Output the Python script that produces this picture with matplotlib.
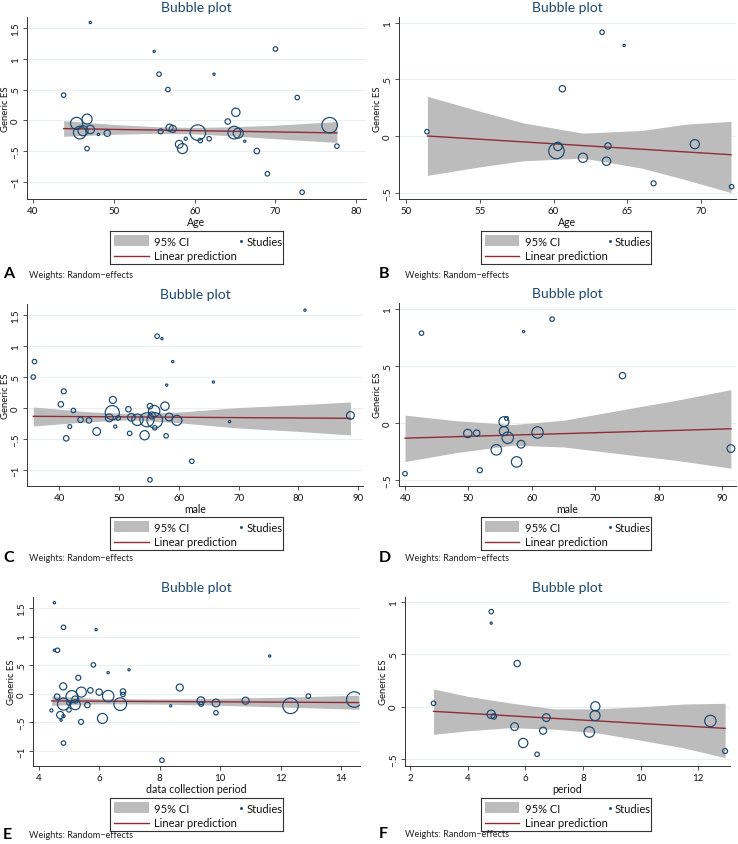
"""Meta-regression bubble plots (6 panels): effect size vs moderators."""
import matplotlib.pyplot as plt
from matplotlib.lines import Line2D
from matplotlib.patches import Rectangle

NAVY = "#1a476f"
MAROON = "#8e2c3b"
BAND = "#bcbcbc"
GRID = "#eaf0f1"
AXIS = "#333333"

plt.rcParams.update({
    "font.family": ["Lato", "DejaVu Sans"],
    "font.size": 7,
})

# ---- panel A: Age (all studies) ----
A_X = [47.1, 55.0, 70.0, 55.6, 62.4, 56.7, 43.8, 72.7, 65.1, 64.1, 46.7, 45.4,
       45.8, 46.2, 47.1, 48.1, 49.2, 46.7, 55.8, 56.9, 57.3, 58.1, 58.5, 58.9,
       60.4, 60.7, 61.8, 64.9, 65.4, 66.2, 67.7, 69.0, 73.3, 76.7, 77.6]
A_Y = [1.59, 1.12, 1.16, 0.75, 0.75, 0.50, 0.41, 0.37, 0.13, -0.02, 0.02, -0.05,
       -0.20, -0.17, -0.15, -0.23, -0.21, -0.46, -0.18, -0.12, -0.14, -0.39, -0.46, -0.30,
       -0.20, -0.33, -0.30, -0.20, -0.21, -0.34, -0.50, -0.87, -1.17, -0.08, -0.42]
A_W = [1, 1, 4, 4, 1, 4, 4, 4, 14, 6, 20, 29,
       32, 20, 14, 1, 8, 4, 5, 10, 10, 12, 20, 2,
       48, 4, 4, 32, 20, 1, 6, 4, 4, 48, 4]
A_BAND_X = [43.8, 50, 55, 60, 65, 70, 77.6]
A_BAND_LO = [-0.26, -0.228, -0.213, -0.221, -0.254, -0.30, -0.36]
A_BAND_HI = [-0.005, -0.068, -0.103, -0.117, -0.104, -0.08, -0.02]
A_FIT_X = [43.8, 77.6]
A_FIT_Y = [-0.135, -0.205]

# ---- panel B: Age (subgroup) ----
B_X = [63.3, 64.8, 60.6, 51.4, 60.3, 60.2, 62.0, 63.7, 63.6, 69.6, 66.8, 72.1]
B_Y = [0.916, 0.80, 0.418, 0.04, -0.09, -0.13, -0.19, -0.086, -0.22, -0.07, -0.415, -0.445]
B_W = [4, 1, 8, 4, 14, 48, 17, 8, 14, 17, 5, 4]
B_BAND_X = [51.43, 55, 58, 62, 66, 69, 72.06]
B_BAND_LO = [-0.345, -0.27, -0.216, -0.193, -0.281, -0.384, -0.497]
B_BAND_HI = [0.351, 0.22, 0.116, 0.027, 0.051, 0.106, 0.131]
B_FIT_X = [51.43, 72.06]
B_FIT_Y = [0.002, -0.163]

# ---- panel C: male % (all studies) ----
C_X = [81.1, 56.4, 57.2, 59.0, 35.9, 35.7, 65.8, 58.0, 40.8, 49.0, 40.3, 57.7,
       55.2, 42.4, 51.6, 48.9, 55.9, 48.4, 49.9, 43.6, 45.0, 52.1, 53.1, 54.7,
       56.0, 58.4, 59.7, 55.5, 41.8, 49.4, 56.0, 46.3, 51.8, 41.2, 54.3, 57.9,
       68.5, 62.2, 55.2, 88.7]
C_Y = [1.58, 1.16, 1.12, 0.75, 0.75, 0.50, 0.42, 0.37, 0.27, 0.13, 0.06, 0.03,
       0.03, -0.04, -0.02, -0.075, -0.05, -0.16, -0.16, -0.19, -0.20, -0.15, -0.19, -0.19,
       -0.20, -0.145, -0.20, -0.12, -0.30, -0.30, -0.32, -0.38, -0.41, -0.49, -0.44, -0.45,
       -0.22, -0.86, -1.16, -0.12]
C_W = [1, 4, 1, 1, 4, 4, 1, 1, 5, 10, 6, 14,
       6, 4, 6, 40, 26, 12, 4, 6, 6, 12, 26, 40,
       48, 12, 20, 10, 3, 2, 4, 12, 4, 6, 17, 4,
       1, 4, 4, 12]
C_BAND_X = [35.7, 45, 52, 60, 70, 80, 88.7]
C_BAND_LO = [-0.29, -0.222, -0.19, -0.238, -0.323, -0.378, -0.435]
C_BAND_HI = [0.016, -0.062, -0.09, -0.066, 0.007, 0.052, 0.097]
C_FIT_X = [35.7, 88.7]
C_FIT_Y = [-0.134, -0.167]

# ---- panel D: male % (subgroup) ----
D_X = [42.6, 58.7, 63.2, 74.3, 56.0, 55.6, 55.6, 56.2, 49.9, 51.3, 60.9, 58.3,
       54.4, 57.6, 51.8, 40.0, 91.4]
D_Y = [0.786, 0.80, 0.909, 0.414, 0.039, 0.01, -0.072, -0.13, -0.093, -0.09, -0.084, -0.187,
       -0.236, -0.342, -0.415, -0.445, -0.225]
D_W = [4, 1, 4, 8, 3, 20, 17, 26, 14, 8, 26, 12,
       22, 22, 5, 4, 12]
D_BAND_X = [40, 48, 57, 65, 75, 83, 91.4]
D_BAND_LO = [-0.339, -0.261, -0.195, -0.211, -0.278, -0.33, -0.397]
D_BAND_HI = [0.068, 0.019, -0.015, 0.023, 0.122, 0.20, 0.291]
D_FIT_X = [40.0, 91.4]
D_FIT_Y = [-0.134, -0.052]

# ---- panel E: data collection period (all studies) ----
E_X = [4.51, 4.81, 5.89, 4.51, 4.61, 5.80, 6.98, 6.29, 5.30, 11.64, 8.66, 4.80,
       5.40, 5.70, 5.99, 6.78, 6.78, 4.60, 5.09, 6.29, 4.81, 5.20, 5.20, 4.99,
       5.60, 6.69, 4.70, 6.10, 5.39, 4.41, 4.73, 4.81, 4.99, 4.81, 8.07, 8.36,
       9.36, 9.37, 9.86, 9.86, 10.84, 12.92, 12.33, 14.44]
E_Y = [1.59, 1.16, 1.12, 0.76, 0.76, 0.505, 0.42, 0.37, 0.28, 0.66, 0.11, 0.13,
       0.03, 0.06, 0.03, 0.04, -0.01, -0.05, -0.05, -0.04, -0.18, -0.19, -0.10, -0.16,
       -0.195, -0.18, -0.37, -0.43, -0.49, -0.29, -0.46, -0.39, -0.28, -0.86, -1.16, -0.21,
       -0.12, -0.18, -0.16, -0.33, -0.12, -0.04, -0.21, -0.10]
E_W = [1, 4, 1, 1, 4, 4, 1, 1, 5, 1, 10, 10,
       20, 6, 8, 6, 4, 6, 29, 26, 29, 20, 10, 4,
       6, 32, 10, 20, 5, 2, 1, 2, 4, 4, 4, 1,
       12, 4, 12, 4, 10, 4, 48, 48]
E_BAND_X = [4.42, 6, 8, 10, 12, 14.59]
E_BAND_LO = [-0.20, -0.175, -0.18, -0.20, -0.23, -0.27]
E_BAND_HI = [-0.035, -0.085, -0.09, -0.08, -0.06, -0.025]
E_FIT_X = [4.42, 14.59]
E_FIT_Y = [-0.124, -0.153]

# ---- panel F: period (subgroup) ----
F_X = [4.82, 4.82, 5.72, 2.82, 8.43, 8.42, 4.82, 4.91, 6.73, 5.63, 6.62, 8.22,
       5.93, 6.41, 12.42, 12.93]
F_Y = [0.91, 0.80, 0.413, 0.033, 0.004, -0.085, -0.072, -0.092, -0.104, -0.19, -0.229, -0.242,
       -0.347, -0.455, -0.136, -0.424]
F_W = [4, 1, 8, 4, 17, 20, 14, 6, 12, 12, 10, 22,
       17, 4, 26, 5]
F_BAND_X = [2.82, 4, 5.5, 7, 8.5, 10, 11.5, 12.93]
F_BAND_LO = [-0.264, -0.23, -0.20, -0.215, -0.25, -0.32, -0.394, -0.487]
F_BAND_HI = [0.17, 0.10, 0.035, -0.02, -0.02, 0.0, 0.026, 0.033]
F_FIT_X = [2.82, 12.93]
F_FIT_Y = [-0.044, -0.207]

YT_WIDE = [-1, -0.5, 0, 0.5, 1, 1.5]
YL_WIDE = ["\u22121", "\u2212.5", "0", ".5", "1", "1.5"]
YT_NARROW = [-0.5, 0, 0.5, 1]
YL_NARROW = ["\u2212.5", "0", ".5", "1"]

W, H = 738, 845

# letter, data, xlabel, xticks, yticks, ylabels, xlim, ylim,
# axes box px, legend box px, note y px
PANELS = [
    ("A", (A_X, A_Y, A_W, A_BAND_X, A_BAND_LO, A_BAND_HI, A_FIT_X, A_FIT_Y), "Age",
     [40, 50, 60, 70, 80], YT_WIDE, YL_WIDE, (39.27, 81.2), (-1.28, 1.68),
     (27, 18, 366, 200), (110, 232, 283, 265), 274),
    ("B", (B_X, B_Y, B_W, B_BAND_X, B_BAND_LO, B_BAND_HI, B_FIT_X, B_FIT_Y), "Age",
     [50, 55, 60, 65, 70], YT_NARROW, YL_NARROW, (49.5, 72.4), (-0.553, 1.05),
     (399, 18, 736, 200), (481, 232, 651, 265), 274),
    ("C", (C_X, C_Y, C_W, C_BAND_X, C_BAND_LO, C_BAND_HI, C_FIT_X, C_FIT_Y), "male",
     [40, 50, 60, 70, 80, 90], YT_WIDE, YL_WIDE, (34.65, 90.8), (-1.26, 1.68),
     (27, 305, 363, 487), (110, 518, 283, 551), 558),
    ("D", (D_X, D_Y, D_W, D_BAND_X, D_BAND_LO, D_BAND_HI, D_FIT_X, D_FIT_Y), "male",
     [40, 50, 60, 70, 80, 90], YT_NARROW, YL_NARROW, (39.05, 92.2), (-0.553, 1.05),
     (399, 304, 736, 487), (481, 518, 651, 551), 558),
    ("E", (E_X, E_Y, E_W, E_BAND_X, E_BAND_LO, E_BAND_HI, E_FIT_X, E_FIT_Y),
     "data collection period", [4, 6, 8, 10, 12, 14], YT_WIDE, YL_WIDE,
     (3.8, 14.63), (-1.26, 1.69), (33, 598, 360, 767), (110, 799, 283, 832), 835),
    ("F", (F_X, F_Y, F_W, F_BAND_X, F_BAND_LO, F_BAND_HI, F_FIT_X, F_FIT_Y), "period",
     [2, 4, 6, 8, 10, 12], YT_NARROW, YL_NARROW, (1.83, 13.1), (-0.567, 1.05),
     (405, 598, 730, 767), (481, 799, 651, 832), 834),
]


def box(px):
    x0, y0, x1, y1 = px
    return [x0 / W, 1 - y1 / H, (x1 - x0) / W, (y1 - y0) / H]


def draw_legend(fig, px):
    lax = fig.add_axes(box(px))
    lax.set_xlim(0, 1)
    lax.set_ylim(0, 1)
    lax.set_xticks([])
    lax.set_yticks([])
    for s in lax.spines.values():
        s.set_linewidth(0.8)
        s.set_color("#333333")
    lax.add_patch(Rectangle((0.023, 0.54), 0.202, 0.33, facecolor=BAND, edgecolor="none"))
    lax.add_line(Line2D([0.023, 0.225], [0.255, 0.255], color=MAROON, lw=1.0))
    lax.plot([0.757], [0.694], "o", ms=1.6, mfc=NAVY, mec=NAVY, mew=0.5)
    kw = dict(fontsize=8, va="center", color="#111111")
    lax.text(0.257, 0.694, "95% CI", **kw)
    lax.text(0.788, 0.694, "Studies", **kw)
    lax.text(0.257, 0.255, "Linear prediction", **kw)


fig = plt.figure(figsize=(W / 100, H / 100), dpi=100)

for (letter, data, xlabel, xt, yt, yl, xlim, ylim,
     axpx, legpx, note_y) in PANELS:
    x, y, w, bx, blo, bhi, fx, fy = data
    ax = fig.add_axes(box(axpx))
    ax.fill_between(bx, blo, bhi, color=BAND, lw=0, zorder=1)
    ax.plot(fx, fy, color=MAROON, lw=1.0, zorder=2)
    ax.scatter(x, y, s=[v * 2.6 for v in w], facecolors="none", edgecolors=NAVY,
               linewidths=0.85, zorder=3)
    ax.set_xlim(*xlim)
    ax.set_ylim(*ylim)
    ax.set_xticks(xt)
    ax.set_yticks(yt)
    ax.set_yticklabels(yl, rotation=90, va="center")
    ax.yaxis.grid(True, color=GRID, lw=0.8)
    ax.set_axisbelow(True)
    for side in ("top", "right"):
        ax.spines[side].set_visible(False)
    for side in ("left", "bottom"):
        ax.spines[side].set_color(AXIS)
        ax.spines[side].set_linewidth(0.7)
    ax.tick_params(direction="out", length=3, width=0.6, color=AXIS,
                   labelsize=7, pad=2, labelcolor="#111111")
    ax.set_xlabel(xlabel, fontsize=7.6, labelpad=1, color="#111111")
    ax.set_ylabel("Generic ES", fontsize=6.8, color="#111111",
                  va="center", ha="center")
    ax.yaxis.set_label_coords(-21.5 / (axpx[2] - axpx[0]), 0.5)
    ax.set_title("Bubble plot", fontsize=10, color=NAVY, pad=4)

    draw_legend(fig, legpx)
    lx = 3 if axpx[0] < 300 else 379
    fig.text(lx / W, 1 - note_y / H, letter, fontsize=11.5, fontweight="bold",
             va="center", ha="left")
    fig.text((lx + 26) / W, 1 - (note_y + 1) / H, "Weights: Random\u2212effects",
             fontsize=6.6, va="center", ha="left", color="#222222")

fig.savefig("out.png", dpi=100, facecolor="white")
